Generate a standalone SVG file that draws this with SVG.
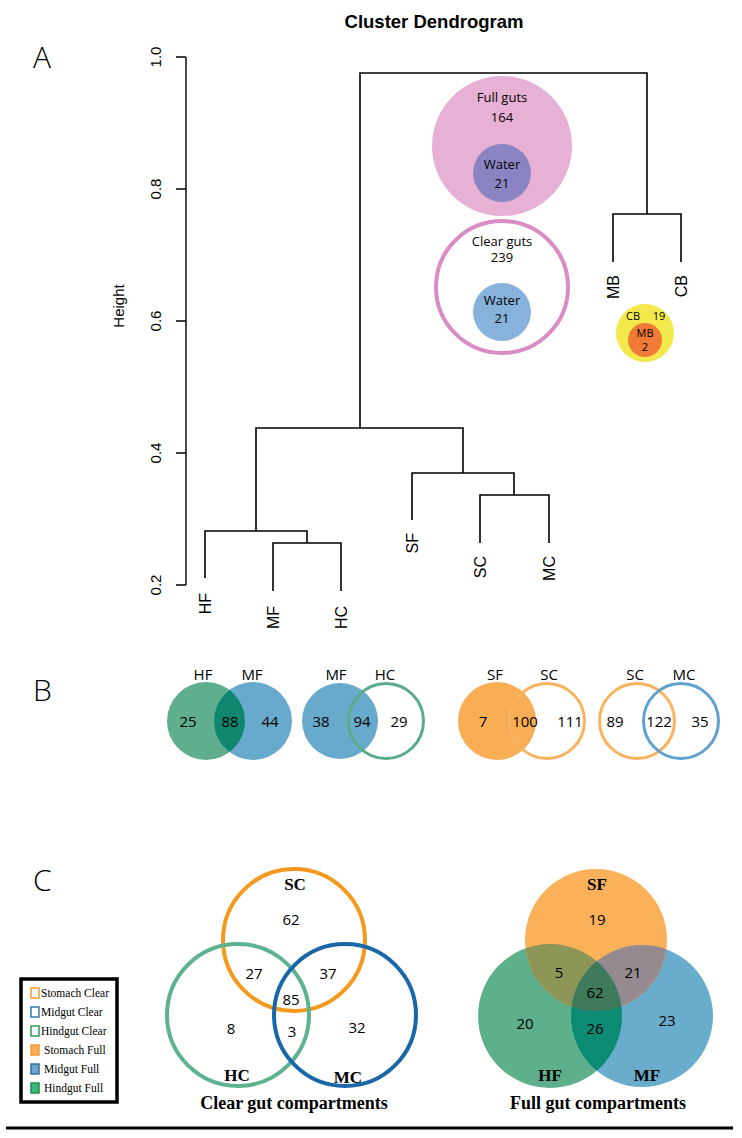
<svg xmlns="http://www.w3.org/2000/svg" width="742" height="1138" viewBox="0 0 742 1138">
<style>
.bg{fill:#ffffff}
.dend{fill:none;stroke:#000;stroke-width:1.6}
.ax{fill:none;stroke:#000;stroke-width:1.4}
.rl{font-family:"Liberation Sans",Arial,sans-serif;font-size:16px;fill:#000}
.tk{font-family:"Liberation Sans",Arial,sans-serif;font-size:15px;fill:#000;text-anchor:middle}
.title{font-family:"Liberation Sans",Arial,sans-serif;font-size:18.5px;font-weight:bold;fill:#000;text-anchor:middle}
.panel{font-family:"Open Sans","Liberation Sans",sans-serif;font-size:30px;font-weight:300;fill:#000}
.my{font-family:"Open Sans","Liberation Sans",sans-serif;font-size:13px;fill:#000;text-anchor:middle}
.myb{font-family:"Open Sans","Liberation Sans",sans-serif;font-size:15px;fill:#000;text-anchor:middle}
.sm{font-family:"Open Sans","Liberation Sans",sans-serif;font-size:11px;fill:#000;text-anchor:middle}
.sl{font-family:"Liberation Serif","Times New Roman",serif;font-size:17px;font-weight:bold;fill:#000;text-anchor:middle}
.cap{font-family:"Liberation Serif","Times New Roman",serif;font-size:18px;font-weight:bold;fill:#000;text-anchor:middle}
.lg{font-family:"Liberation Serif","Times New Roman",serif;font-size:11.5px;fill:#000}
.vo{fill:none;stroke-width:3}
.co{fill:none;stroke-width:4}
</style>
<defs>
<clipPath id="cSF"><circle cx="596" cy="940" r="71"/></clipPath>
<clipPath id="cHF"><circle cx="550" cy="1016" r="72"/></clipPath>
<clipPath id="cHFb"><circle cx="206" cy="721" r="39"/></clipPath>
</defs>
<rect class="bg" x="0" y="0" width="742" height="1138"/>

<!-- Panel A -->
<text class="title" x="434" y="28">Cluster Dendrogram</text>
<text class="panel" x="33" y="68">A</text>

<g id="axis">
<path class="ax" d="M186,57 V585 M176,57 H186 M176,189 H186 M176,321 H186 M176,453 H186 M176,585 H186"/>
<text class="tk" transform="translate(161,57) rotate(-90)">1.0</text>
<text class="tk" transform="translate(161,189) rotate(-90)">0.8</text>
<text class="tk" transform="translate(161,321) rotate(-90)">0.6</text>
<text class="tk" transform="translate(161,453) rotate(-90)">0.4</text>
<text class="tk" transform="translate(161,585) rotate(-90)">0.2</text>
<text class="tk" transform="translate(124,306) rotate(-90)">Height</text>
</g>

<g id="set-full">
<circle cx="502" cy="146" r="70" fill="#e6b1d4"/>
<circle cx="502" cy="173" r="29" fill="#8b84c2"/>
<text class="my" x="502" y="102">Full guts</text>
<text class="my" x="502" y="122">164</text>
<text class="my" x="502" y="169">Water</text>
<text class="my" x="502" y="188">21</text>
</g>
<g id="set-clear">
<circle cx="502" cy="287" r="66" fill="#ffffff" stroke="#d98cc6" stroke-width="4"/>
<circle cx="502" cy="312" r="29" fill="#86b2db"/>
<text class="my" x="502" y="246">Clear guts</text>
<text class="my" x="502" y="262">239</text>
<text class="my" x="502" y="305">Water</text>
<text class="my" x="502" y="323">21</text>
</g>
<g id="set-blank">
<circle cx="645" cy="333" r="29" fill="#f4e94c"/>
<circle cx="645" cy="340" r="17" fill="#f07a36"/>
<text class="sm" x="633" y="320">CB</text>
<text class="sm" x="659" y="320">19</text>
<text class="sm" x="645" y="337">MB</text>
<text class="sm" x="645" y="351">2</text>
</g>

<g id="connectors">
<path class="dend" d="M360,428 V73 H647 V214"/>
<path class="dend" d="M613,262 V214 H681 V262"/>
<path class="dend" d="M256,531 V428 H463 V473"/>
<path class="dend" d="M205,578 V531 H307 V543"/>
<path class="dend" d="M273,591 V543 H341 V591"/>
<path class="dend" d="M412,520 V473 H514 V495"/>
<path class="dend" d="M480,543 V495 H549 V543"/>
</g>

<g id="leaf-HF"><text class="rl" text-anchor="end" transform="translate(211,593) rotate(-90)">HF</text></g>
<g id="leaf-MF"><text class="rl" text-anchor="end" transform="translate(279,606) rotate(-90)">MF</text></g>
<g id="leaf-HC"><text class="rl" text-anchor="end" transform="translate(347,606) rotate(-90)">HC</text></g>
<g id="leaf-SF"><text class="rl" text-anchor="end" transform="translate(418,533) rotate(-90)">SF</text></g>
<g id="leaf-SC"><text class="rl" text-anchor="end" transform="translate(486,556) rotate(-90)">SC</text></g>
<g id="leaf-MC"><text class="rl" text-anchor="end" transform="translate(555,556) rotate(-90)">MC</text></g>
<g id="leaf-MB"><text class="rl" text-anchor="end" transform="translate(619,275) rotate(-90)">MB</text></g>
<g id="leaf-CB"><text class="rl" text-anchor="end" transform="translate(687,275) rotate(-90)">CB</text></g>

<!-- Panel B -->
<text class="panel" x="33" y="701">B</text>
<g id="venn-HF-MF">
<circle cx="206" cy="721" r="39" fill="#5fae8e"/>
<circle cx="253" cy="721" r="39" fill="#68aacc"/>
<circle cx="253" cy="721" r="39" fill="#0f876e" clip-path="url(#cHFb)"/>
<text class="myb" x="203" y="680">HF</text>
<text class="myb" x="252" y="680">MF</text>
<text class="myb" x="188" y="727">25</text>
<text class="myb" x="230" y="727">88</text>
<text class="myb" x="270" y="727">44</text>
</g>
<g id="venn-MF-HC">
<circle cx="340" cy="721" r="38" fill="#68aacc"/>
<circle cx="386" cy="721" r="37.5" class="vo" stroke="#5aab8b"/>
<text class="myb" x="336" y="680">MF</text>
<text class="myb" x="385" y="680">HC</text>
<text class="myb" x="321" y="727">38</text>
<text class="myb" x="362" y="727">94</text>
<text class="myb" x="399" y="727">29</text>
</g>
<g id="venn-SF-SC">
<circle cx="497" cy="721" r="39" fill="#f9ae55"/>
<circle cx="547" cy="721" r="37.5" class="vo" stroke="#f9b25f"/>
<text class="myb" x="495" y="680">SF</text>
<text class="myb" x="549" y="680">SC</text>
<text class="myb" x="483" y="727">7</text>
<text class="myb" x="525" y="727">100</text>
<text class="myb" x="570" y="727">111</text>
</g>
<g id="venn-SC-MC">
<circle cx="637" cy="721" r="37.5" class="vo" stroke="#f9b25f"/>
<circle cx="681" cy="721" r="37.5" class="vo" stroke="#5fa2d0"/>
<text class="myb" x="635" y="680">SC</text>
<text class="myb" x="684" y="680">MC</text>
<text class="myb" x="615" y="727">89</text>
<text class="myb" x="659" y="727">122</text>
<text class="myb" x="700" y="727">35</text>
</g>

<!-- Panel C -->
<text class="panel" x="33" y="891">C</text>
<g id="legend">
<rect x="21" y="979" width="96" height="123" fill="#ffffff" stroke="#000" stroke-width="3.5"/>
<rect x="31" y="988" width="8" height="10" fill="#fff" stroke="#f39a2e" stroke-width="1.5"/>
<text class="lg" x="41" y="997">Stomach Clear</text>
<rect x="31" y="1007" width="8" height="10" fill="#fff" stroke="#2f7fb0" stroke-width="1.5"/>
<text class="lg" x="41" y="1016">Midgut Clear</text>
<rect x="31" y="1026" width="8" height="10" fill="#fff" stroke="#2e9a5a" stroke-width="1.5"/>
<text class="lg" x="41" y="1035">Hindgut Clear</text>
<rect x="31" y="1045" width="8" height="10" fill="#f9ad62" stroke="#f39a2e" stroke-width="1.5"/>
<text class="lg" x="44" y="1054">Stomach Full</text>
<rect x="31" y="1064" width="8" height="10" fill="#6fa3c9" stroke="#2f6f9f" stroke-width="1.5"/>
<text class="lg" x="44" y="1073">Midgut Full</text>
<rect x="31" y="1083" width="8" height="10" fill="#3cb878" stroke="#1f8a4c" stroke-width="1.5"/>
<text class="lg" x="44" y="1092">Hindgut Full</text>
</g>

<g id="venn-clear">
<circle cx="294" cy="940" r="71" class="co" stroke="#f39a1e"/>
<circle cx="238" cy="1015" r="71" class="co" stroke="#5db38f"/>
<circle cx="345" cy="1015" r="71" class="co" stroke="#1a67a8"/>
<text class="sl" x="295" y="890">SC</text>
<text class="sl" x="237" y="1081">HC</text>
<text class="sl" x="348" y="1083">MC</text>
<text class="myb" x="291" y="925">62</text>
<text class="myb" x="254" y="979">27</text>
<text class="myb" x="328" y="979">37</text>
<text class="myb" x="291" y="1005">85</text>
<text class="myb" x="231" y="1034">8</text>
<text class="myb" x="292" y="1037">3</text>
<text class="myb" x="357" y="1033">32</text>
<text class="cap" x="294" y="1109">Clear gut compartments</text>
</g>

<g id="venn-full">
<circle cx="550" cy="1016" r="72" fill="#5eaf8c"/>
<circle cx="642" cy="1016" r="71" fill="#6aaccc"/>
<circle cx="596" cy="940" r="71" fill="#fbb05a"/>
<circle cx="550" cy="1016" r="72" fill="#8d9656" clip-path="url(#cSF)"/>
<circle cx="642" cy="1016" r="71" fill="#958a90" clip-path="url(#cSF)"/>
<circle cx="642" cy="1016" r="71" fill="#0d8a72" clip-path="url(#cHF)"/>
<g clip-path="url(#cHF)"><circle cx="642" cy="1016" r="71" fill="#3f7a5c" clip-path="url(#cSF)"/></g>
<text class="sl" x="597" y="890">SF</text>
<text class="sl" x="550" y="1081">HF</text>
<text class="sl" x="647" y="1081">MF</text>
<text class="myb" x="597" y="925">19</text>
<text class="myb" x="559" y="978">5</text>
<text class="myb" x="633" y="978">21</text>
<text class="myb" x="595" y="998">62</text>
<text class="myb" x="525" y="1029">20</text>
<text class="myb" x="595" y="1034">26</text>
<text class="myb" x="667" y="1026">23</text>
<text class="cap" x="598" y="1109">Full gut compartments</text>
</g>

<path d="M6,1128 H733" stroke="#000" stroke-width="3"/>
</svg>
